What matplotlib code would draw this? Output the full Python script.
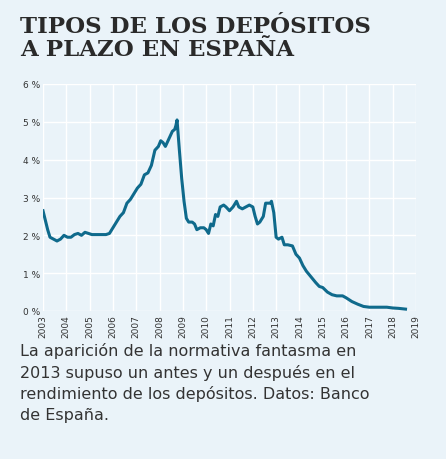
import matplotlib
matplotlib.use("Agg")
import matplotlib.pyplot as plt

dates = [2003.0,2003.1,2003.2,2003.3,2003.45,2003.6,2003.75,2003.9,2004.05,2004.2,2004.35,2004.5,2004.65,2004.8,2004.95,2005.1,2005.3,2005.5,2005.7,2005.85,
 2006.0,2006.15,2006.3,2006.45,2006.6,2006.75,2006.9,2007.05,2007.2,2007.35,2007.5,2007.65,2007.8,2007.95,2008.05,2008.15,2008.25,2008.4,2008.55,2008.65,2008.7,2008.75,
 2008.85,2008.95,2009.05,2009.15,2009.25,2009.4,2009.5,2009.6,2009.75,2009.9,2010.0,2010.1,2010.2,2010.3,2010.4,2010.5,2010.6,2010.75,2010.85,2011.0,2011.15,2011.3,2011.4,2011.55,2011.7,2011.85,2012.0,2012.1,2012.2,2012.3,2012.45,2012.55,2012.65,2012.75,2012.8,2012.9,
 2013.0,2013.1,2013.25,2013.35,2013.5,2013.7,2013.85,2014.0,2014.15,2014.3,2014.5,2014.7,2014.85,2015.0,2015.2,2015.4,2015.6,2015.85,2016.0,2016.25,2016.5,2016.75,2017.0,2017.25,2017.5,2017.75,2018.0,2018.25,2018.55]
values = [2.65,2.4,2.15,1.95,1.9,1.85,1.9,2.0,1.95,1.95,2.02,2.05,2.0,2.08,2.05,2.02,2.02,2.02,2.02,2.05,
 2.2,2.35,2.5,2.6,2.85,2.95,3.1,3.25,3.35,3.6,3.65,3.85,4.25,4.35,4.5,4.45,4.35,4.55,4.75,4.8,4.9,5.05,
 4.25,3.5,2.9,2.45,2.35,2.35,2.3,2.15,2.2,2.2,2.15,2.05,2.3,2.25,2.55,2.5,2.75,2.8,2.75,2.65,2.75,2.9,2.75,2.7,2.75,2.8,2.75,2.5,2.3,2.35,2.5,2.85,2.85,2.85,2.9,2.6,
 1.95,1.9,1.95,1.75,1.75,1.72,1.5,1.4,1.2,1.05,0.9,0.75,0.65,0.62,0.5,0.43,0.4,0.4,0.35,0.25,0.18,0.12,0.1,0.1,0.1,0.1,0.08,0.07,0.05]
years = list(range(2003, 2020))
yticks = [0,1,2,3,4,5,6]

bg = "#eaf3f9"
fig = plt.figure(figsize=(4.46,4.60), dpi=100, facecolor=bg)
fig.text(0.045, 0.965, "TIPOS DE LOS DEPÓSITOS\nA PLAZO EN ESPAÑA", va="top", ha="left",
         fontsize=16.5, fontweight="bold", family="DejaVu Serif", color="#2a2a2a", linespacing=1.05)
ax = fig.add_axes([43/446, 1-312/460, (416-43)/446, (312-85)/460])
ax.set_facecolor(bg)
ax.plot(dates, values, color="#0f6a8c", lw=2.2)
ax.set_xlim(2003, 2019); ax.set_ylim(0, 6)
ax.set_xticks(years); ax.set_xticklabels([str(y) for y in years], rotation=90, fontsize=6.5)
ax.set_yticks(yticks); ax.set_yticklabels([f"{t} %" for t in yticks], fontsize=6.5)
ax.grid(color="white", lw=1)
for s in ax.spines.values(): s.set_visible(False)
ax.tick_params(length=0, pad=2, colors="#333333")
fig.text(0.045, 0.255, "La aparición de la normativa fantasma en\n2013 supuso un antes y un después en el\nrendimiento de los depósitos. Datos: Banco\nde España.",
         va="top", ha="left", fontsize=11.5, color="#333333", linespacing=1.45)
fig.savefig("out.png", dpi=100, facecolor=bg)
